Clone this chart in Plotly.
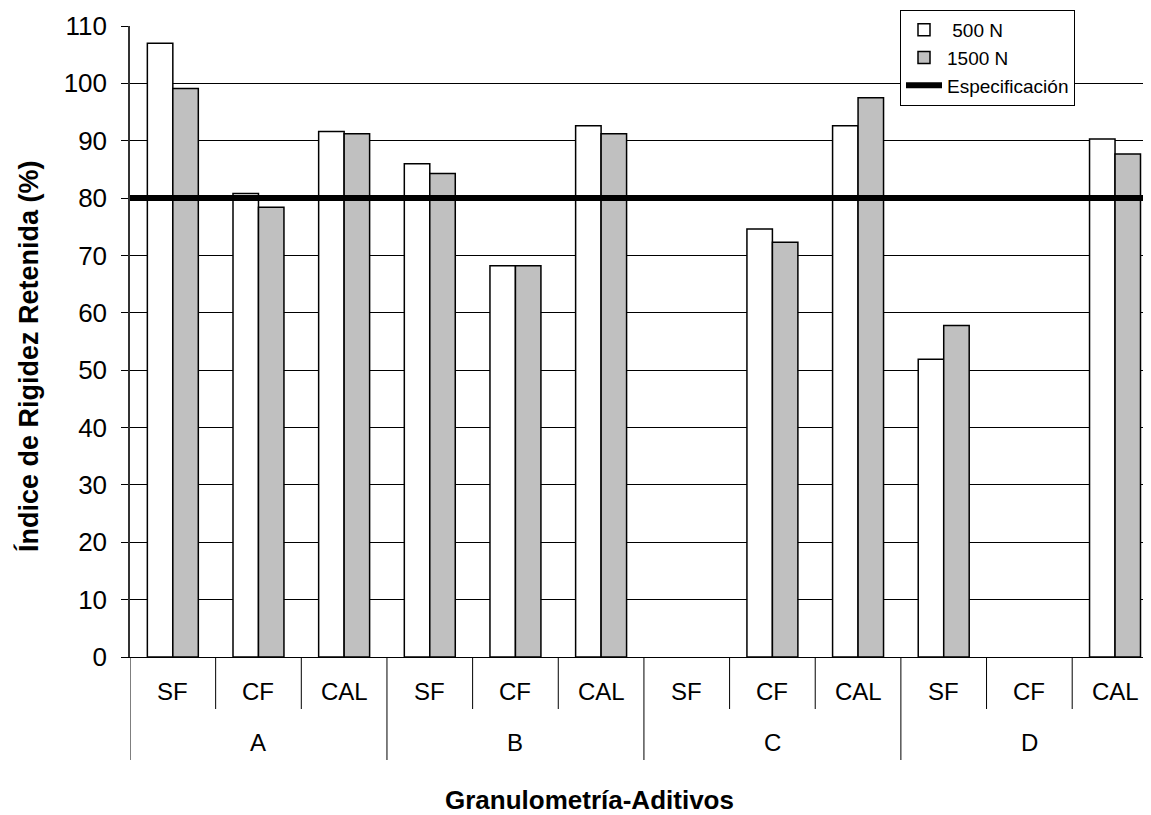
import plotly.graph_objects as go

groups = ["A", "A", "A", "B", "B", "B", "C", "C", "C", "D", "D", "D"]
additives = ["SF", "CF", "CAL", "SF", "CF", "CAL", "SF", "CF", "CAL", "SF", "CF", "CAL"]
load_500 = [107.0, 80.8, 91.6, 86.0, 68.2, 92.6, None, 74.6, 92.6, 51.9, None, 90.3]
load_1500 = [99.1, 78.4, 91.2, 84.3, 68.2, 91.2, None, 72.3, 97.5, 57.8, None, 87.7]
SPEC = 80
y_ticks = list(range(0, 111, 10))

FONT = "Liberation Sans, Arial, sans-serif"
cats = [f"{g}-{a}" for g, a in zip(groups, additives)]

# the page body has an 8px margin, so the figure is drawn 8px smaller/offset
OFF = 8
W, H = 1151 - OFF, 815 - OFF
ML, MR, MT, MB = 130 - OFF, 0, 10 - OFF, 158
PH = H - MT - MB          # paper height in px
PW = W - ML - MR          # paper width in px
BOTTOM = 657              # screen row of the x axis


def py(px):
    """screen row -> paper y"""
    return (BOTTOM - px) / PH


def pxr(px):
    """screen column -> paper x"""
    return (px - 130) / PW


fig = go.Figure()
fig.add_trace(go.Bar(
    x=cats, y=load_500, name=" 500 N",
    marker=dict(color="white", line=dict(color="black", width=1.5)),
))
fig.add_trace(go.Bar(
    x=cats, y=load_1500, name="1500 N",
    marker=dict(color="#C0C0C0", line=dict(color="black", width=1.5)),
))
fig.add_trace(go.Scatter(
    x=[None], y=[None], mode="lines", name="Especificación",
    line=dict(color="black", width=6),
))
fig.add_shape(type="line", xref="paper", x0=0, x1=1, yref="y", y0=SPEC, y1=SPEC,
              line=dict(color="black", width=6), layer="above")

annotations = []
shapes = []
for i, a in enumerate(additives):
    annotations.append(dict(x=i, xref="x", y=py(691), yref="paper", text=a,
                            showarrow=False, font=dict(size=24), xanchor="center",
                            yanchor="middle"))
    if i + 1 < len(groups) and groups[i + 1] == groups[i]:
        shapes.append(dict(type="line", xref="x", x0=i + 0.5, x1=i + 0.5,
                           yref="paper", y0=0, y1=py(709),
                           line=dict(color="black", width=1)))
uniq = []
for g in groups:
    if g not in uniq:
        uniq.append(g)
for g in uniq:
    idx = [i for i, gg in enumerate(groups) if gg == g]
    annotations.append(dict(x=sum(idx) / len(idx), xref="x", y=py(742), yref="paper",
                            text=g, showarrow=False, font=dict(size=24),
                            xanchor="center", yanchor="middle"))
    shapes.append(dict(type="line", xref="x", x0=idx[0] - 0.5, x1=idx[0] - 0.5,
                       yref="paper", y0=0, y1=py(760),
                       line=dict(color="black", width=1)))

annotations.append(dict(x=pxr(589), xref="paper", y=py(800), yref="paper",
                        text="<b>Granulometría-Aditivos</b>", showarrow=False,
                        font=dict(size=26), xanchor="center", yanchor="middle"))
annotations.append(dict(x=pxr(28), xref="paper", y=py(356), yref="paper",
                        text="<b>Índice de Rigidez Retenida (%)</b>", showarrow=False,
                        font=dict(size=27), textangle=-90, xanchor="center",
                        yanchor="middle"))

for s in shapes:
    fig.add_shape(**s)

fig.update_layout(
    width=W, height=H,
    margin=dict(l=ML, r=MR, t=MT, b=MB),
    paper_bgcolor="white", plot_bgcolor="white",
    font=dict(family=FONT, size=24, color="black"),
    barmode="group", bargap=0.405, bargroupgap=0,
    showlegend=True,
    legend=dict(x=pxr(900), y=py(10), xanchor="left", yanchor="top",
                bordercolor="black", borderwidth=1, bgcolor="white",
                font=dict(size=19, family=FONT), tracegroupgap=0,
                itemwidth=36),
    annotations=annotations,
    xaxis=dict(
        type="category", range=[-0.5, 11.42],
        showline=True, linecolor="black", linewidth=1,
        showticklabels=False, ticks="",
        showgrid=False, automargin=False,
    ),
    yaxis=dict(
        domain=[0, py(26)],
        range=[0, 110], tickvals=y_ticks,
        showline=True, linecolor="#333333", linewidth=1.5,
        ticks="outside", ticklen=7, tickcolor="black",
        ticklabelstandoff=9,
        showgrid=True, gridcolor="black", gridwidth=1,
        tickfont=dict(size=26),
        zeroline=False, automargin=False,
    ),
)

fig.write_html("out.html")
